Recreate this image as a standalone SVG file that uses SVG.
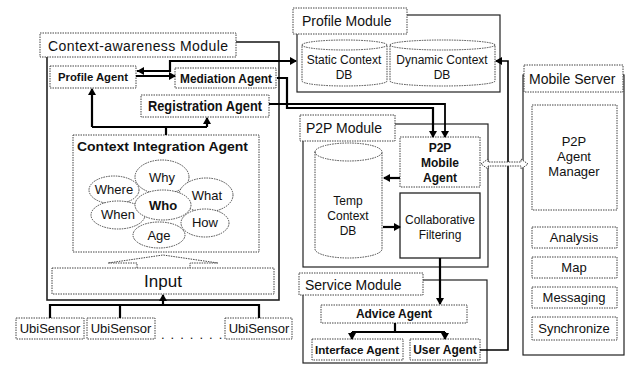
<svg xmlns="http://www.w3.org/2000/svg" width="630" height="365" viewBox="0 0 630 365">
<style>
text{font-family:"Liberation Sans",Arial,sans-serif;fill:#111}
.lbl{font-size:14px}
.b{font-weight:bold}
.dot{fill:#fff;stroke:#444;stroke-width:1;stroke-dasharray:1.5 1}
.frame{fill:none;stroke:#222;stroke-width:1.2}
.conn{fill:none;stroke:#000;stroke-width:2.2}
.mid{stroke-width:1.6}
.solid{fill:#fff;stroke:#222;stroke-width:1.3}
</style>
<defs>
<marker id="ah" markerWidth="8" markerHeight="8" refX="6" refY="4" orient="auto" markerUnits="userSpaceOnUse">
<path d="M0,0 L7,4 L0,8 Z" fill="#000"/>
</marker>
<marker id="as" markerWidth="8" markerHeight="8" refX="1" refY="4" orient="auto" markerUnits="userSpaceOnUse">
<path d="M8,0 L1,4 L8,8 Z" fill="#000"/>
</marker>
</defs>
<rect width="630" height="365" fill="#fff"/>

<!-- Context-awareness Module -->
<g id="context-awareness-module">
<rect class="frame" x="47" y="42" width="232" height="258" style="stroke-width:1.6"/>
<rect class="dot" x="40" y="33" width="196" height="24"/>
<text class="lbl" x="48" y="51" textLength="180" font-size="15">Context-awareness Module</text>
</g>
<g id="profile-agent">
<rect class="dot" x="50" y="66" width="86" height="22"/>
<text class="b" x="93" y="81" font-size="11" text-anchor="middle" textLength="70" lengthAdjust="spacingAndGlyphs">Profile Agent</text>
</g>
<g id="mediation-agent">
<rect class="dot" x="175" y="68" width="101" height="20"/>
<text class="b" x="226" y="83" font-size="12" text-anchor="middle" textLength="92" lengthAdjust="spacingAndGlyphs">Mediation Agent</text>
</g>
<g id="registration-agent">
<rect class="dot" x="141" y="95" width="128" height="22"/>
<text class="b" x="205" y="111" font-size="14.5" text-anchor="middle" textLength="114" lengthAdjust="spacingAndGlyphs">Registration Agent</text>
</g>
<g id="context-integration-agent">
<rect class="dot" x="73" y="135" width="186" height="117"/>
<text class="b" x="77" y="151" font-size="12" textLength="171" lengthAdjust="spacingAndGlyphs">Context Integration Agent</text>
<ellipse class="dot" cx="162" cy="177" rx="27" ry="17"/>
<ellipse class="dot" cx="206" cy="195" rx="27" ry="17"/>
<ellipse class="dot" cx="114" cy="190" rx="25" ry="14"/>
<ellipse class="dot" cx="205" cy="223" rx="24" ry="14"/>
<ellipse class="dot" cx="118" cy="215" rx="27" ry="14"/>
<ellipse class="dot" cx="159" cy="235" rx="26" ry="13"/>
<ellipse class="dot" cx="163" cy="205" rx="28" ry="15"/>
<g font-size="13" text-anchor="middle">
<text x="162" y="182">Why</text>
<text x="114" y="194">Where</text>
<text x="207" y="200">What</text>
<text x="163" y="210" class="b">Who</text>
<text x="118" y="219">When</text>
<text x="205" y="227">How</text>
<text x="159" y="240">Age</text>
</g>
</g>
<g id="input">
<path class="dot" style="fill:none" d="M137,268 V263 H108 L163,255 L218,263 H190 V268"/>
<rect class="dot" x="52" y="268" width="222" height="26"/>
<text x="163" y="287" font-size="17" text-anchor="middle">Input</text>
</g>
<g id="ubisensor-1">
<rect class="dot" x="16" y="318" width="68" height="21"/>
<text x="50" y="333" font-size="13" text-anchor="middle">UbiSensor</text>
</g>
<g id="ubisensor-2">
<rect class="dot" x="87" y="318" width="68" height="21"/>
<text x="121" y="333" font-size="13" text-anchor="middle">UbiSensor</text>
</g>
<g id="ellipsis">
<text x="161" y="339" font-size="13" letter-spacing="6">.......</text>
</g>
<g id="ubisensor-3">
<rect class="dot" x="225" y="318" width="67" height="21"/>
<text x="259" y="333" font-size="13" text-anchor="middle">UbiSensor</text>
</g>

<!-- Profile Module -->
<g id="profile-module">
<rect class="frame" x="297" y="15" width="203" height="77"/>
<rect class="dot" x="293" y="8" width="114" height="26"/>
<text class="lbl" x="302" y="26">Profile Module</text>
</g>
<g id="static-context-db">
<path class="dot" d="M302,45 A42.5,5 0 0 1 387,45 V81 A42.5,5 0 0 1 302,81 Z"/>
<path class="dot" style="fill:none" d="M302,45 A42.5,5 0 0 0 387,45"/>
<text x="344" y="64" font-size="12" text-anchor="middle">Static Context</text>
<text x="344" y="79" font-size="12" text-anchor="middle">DB</text>
</g>
<g id="dynamic-context-db">
<path class="dot" d="M390,45 A52.5,5 0 0 1 495,45 V81 A52.5,5 0 0 1 390,81 Z"/>
<path class="dot" style="fill:none" d="M390,45 A52.5,5 0 0 0 495,45"/>
<text x="442" y="64" font-size="12" text-anchor="middle">Dynamic Context</text>
<text x="442" y="79" font-size="12" text-anchor="middle">DB</text>
</g>

<!-- P2P Module -->
<g id="p2p-module">
<rect class="frame" x="303" y="124" width="185" height="143"/>
<rect class="dot" x="300" y="115" width="95" height="26"/>
<text class="lbl" x="306" y="133">P2P Module</text>
</g>
<g id="temp-context-db">
<path class="dot" d="M315,152 A33.5,9 0 0 1 382,152 V249 A33.5,9 0 0 1 315,249 Z"/>
<path class="dot" style="fill:none" d="M315,152 A33.5,9 0 0 0 382,152"/>
<text x="348" y="205" font-size="12" text-anchor="middle">Temp</text>
<text x="348" y="220" font-size="12" text-anchor="middle">Context</text>
<text x="348" y="235" font-size="12" text-anchor="middle">DB</text>
</g>
<g id="p2p-mobile-agent">
<rect class="dot" x="400" y="137" width="80" height="50"/>
<g class="b" font-size="12" text-anchor="middle">
<text x="440" y="152">P2P</text>
<text x="440" y="167">Mobile</text>
<text x="440" y="182">Agent</text>
</g>
</g>
<g id="collaborative-filtering">
<rect class="solid" x="400" y="193" width="80" height="65"/>
<text x="440" y="224" font-size="12" text-anchor="middle">Collaborative</text>
<text x="440" y="239" font-size="12" text-anchor="middle">Filtering</text>
</g>

<!-- Service Module -->
<g id="service-module">
<rect class="frame" x="303" y="280" width="184" height="83"/>
<rect class="dot" x="299" y="273" width="124" height="22"/>
<text class="lbl" x="305" y="290" font-size="15">Service Module</text>
</g>
<g id="advice-agent">
<rect class="dot" x="321" y="305" width="146" height="18"/>
<text class="b" x="394" y="318" font-size="12" text-anchor="middle">Advice Agent</text>
</g>
<g id="interface-agent">
<rect class="dot" x="312" y="339" width="91" height="21"/>
<text class="b" x="357" y="354" font-size="11.5" text-anchor="middle" textLength="84" lengthAdjust="spacingAndGlyphs">Interface Agent</text>
</g>
<g id="user-agent">
<rect class="dot" x="410" y="339" width="70" height="21"/>
<text class="b" x="445" y="354" font-size="12" text-anchor="middle">User Agent</text>
</g>

<!-- Mobile Server -->
<g id="mobile-server">
<rect class="frame" x="523" y="75" width="101" height="280"/>
<rect class="dot" x="524" y="65" width="99" height="27"/>
<text class="lbl" x="529" y="84">Mobile Server</text>
</g>
<g id="p2p-agent-manager">
<rect class="dot" x="532" y="105" width="85" height="105"/>
<text x="574" y="146" font-size="13" text-anchor="middle">P2P</text>
<text x="574" y="161" font-size="13" text-anchor="middle">Agent</text>
<text x="574" y="176" font-size="13" text-anchor="middle">Manager</text>
</g>
<g id="analysis">
<rect class="dot" x="532" y="227" width="85" height="21"/>
<text x="574" y="242" font-size="13" text-anchor="middle">Analysis</text>
</g>
<g id="map">
<rect class="dot" x="532" y="257" width="85" height="21"/>
<text x="574" y="272" font-size="13" text-anchor="middle">Map</text>
</g>
<g id="messaging">
<rect class="dot" x="532" y="287" width="85" height="21"/>
<text x="574" y="302" font-size="13" text-anchor="middle">Messaging</text>
</g>
<g id="synchronize">
<rect class="dot" x="532" y="317" width="85" height="23"/>
<text x="574" y="333" font-size="13" text-anchor="middle">Synchronize</text>
</g>

<!-- Connectors -->
<g id="connectors">
<path class="conn" d="M137,71 H170 V61 H296" marker-start="url(#as)" marker-end="url(#ah)"/>
<path class="conn" d="M136,76 H175" marker-end="url(#ah)"/>
<path class="conn" d="M277,78 H287 V108 H433 V137" marker-end="url(#ah)"/>
<path class="conn" d="M269,104 H445 V137" marker-end="url(#ah)" style="stroke-width:1.8"/>
<path class="conn" d="M92,127 H207 M166,127 V135"/>
<path class="conn" d="M92,127 V89" marker-end="url(#ah)"/>
<path class="conn" d="M207,127 V118" marker-end="url(#ah)"/>
<path class="conn" d="M50,318 V305 H259 V318 M120,305 V318"/>
<path class="conn" d="M163,305 V295" marker-end="url(#ah)"/>
<path class="conn" d="M400,178 H384" marker-end="url(#ah)"/>
<path class="conn" d="M383,227 H400" marker-end="url(#ah)"/>
<path class="conn" d="M440,258 V304" marker-end="url(#ah)"/>
<path class="conn" d="M395,323 V332 M352,332 H445"/>
<path class="conn" d="M352,332 V339" marker-end="url(#ah)"/>
<path class="conn" d="M445,332 V339" marker-end="url(#ah)"/>
<path class="conn mid" d="M480,350 H508 V61 H496" marker-end="url(#ah)"/>
<path class="dot" style="fill:#fff" d="M481,164 L488,159 V162 H521 V159 L528,164 L521,169 V166 H488 V169 Z"/>
</g>
</svg>
